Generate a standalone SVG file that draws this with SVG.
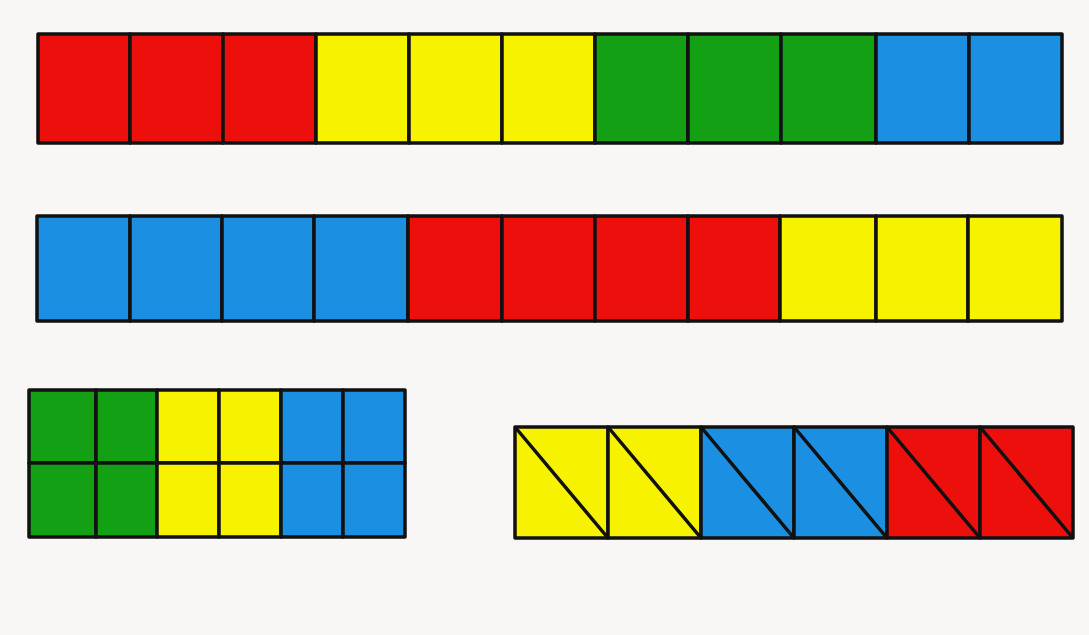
<svg xmlns="http://www.w3.org/2000/svg" width="1089" height="635" viewBox="0 0 1089 635">
<style>
.r{fill:#ec0f0c}.y{fill:#f6f200}.g{fill:#13a014}.b{fill:#1b8fe2}
.c{stroke:#111;stroke-width:3.5;stroke-linejoin:round}
.l{stroke:#111;stroke-width:3.5;fill:none}
</style>
<rect width="1089" height="635" fill="#f9f7f5"/>
<g id="row1">
<rect class="r c" x="38" y="34" width="92" height="109"/>
<rect class="r c" x="130" y="34" width="93" height="109"/>
<rect class="r c" x="223" y="34" width="93" height="109"/>
<rect class="y c" x="316" y="34" width="93" height="109"/>
<rect class="y c" x="409" y="34" width="93" height="109"/>
<rect class="y c" x="502" y="34" width="93" height="109"/>
<rect class="g c" x="595" y="34" width="93" height="109"/>
<rect class="g c" x="688" y="34" width="93" height="109"/>
<rect class="g c" x="781" y="34" width="95" height="109"/>
<rect class="b c" x="876" y="34" width="93" height="109"/>
<rect class="b c" x="969" y="34" width="93" height="109"/>
</g>
<g id="row2">
<rect class="b c" x="37" y="216" width="93" height="105"/>
<rect class="b c" x="130" y="216" width="92" height="105"/>
<rect class="b c" x="222" y="216" width="92" height="105"/>
<rect class="b c" x="314" y="216" width="94" height="105"/>
<rect class="r c" x="408" y="216" width="94" height="105"/>
<rect class="r c" x="502" y="216" width="93" height="105"/>
<rect class="r c" x="595" y="216" width="93" height="105"/>
<rect class="r c" x="688" y="216" width="92" height="105"/>
<rect class="y c" x="780" y="216" width="96" height="105"/>
<rect class="y c" x="876" y="216" width="92" height="105"/>
<rect class="y c" x="968" y="216" width="94" height="105"/>
</g>
<g id="grid-block">
<rect class="g c" x="29" y="390" width="67" height="73"/>
<rect class="g c" x="96" y="390" width="61" height="73"/>
<rect class="y c" x="157" y="390" width="62" height="73"/>
<rect class="y c" x="219" y="390" width="62" height="73"/>
<rect class="b c" x="281" y="390" width="62" height="73"/>
<rect class="b c" x="343" y="390" width="62" height="73"/>
<rect class="g c" x="29" y="463" width="67" height="74"/>
<rect class="g c" x="96" y="463" width="61" height="74"/>
<rect class="y c" x="157" y="463" width="62" height="74"/>
<rect class="y c" x="219" y="463" width="62" height="74"/>
<rect class="b c" x="281" y="463" width="62" height="74"/>
<rect class="b c" x="343" y="463" width="62" height="74"/>
</g>
<g id="triangle-block">
<rect class="y c" x="515" y="427" width="93" height="111"/>
<rect class="y c" x="608" y="427" width="93" height="111"/>
<rect class="b c" x="701" y="427" width="93" height="111"/>
<rect class="b c" x="794" y="427" width="93" height="111"/>
<rect class="r c" x="887" y="427" width="93" height="111"/>
<rect class="r c" x="980" y="427" width="93" height="111"/>
<path class="l" d="M515 427L608 538M608 427L701 538M701 427L794 538M794 427L887 538M887 427L980 538M980 427L1073 538"/>
</g>
</svg>
